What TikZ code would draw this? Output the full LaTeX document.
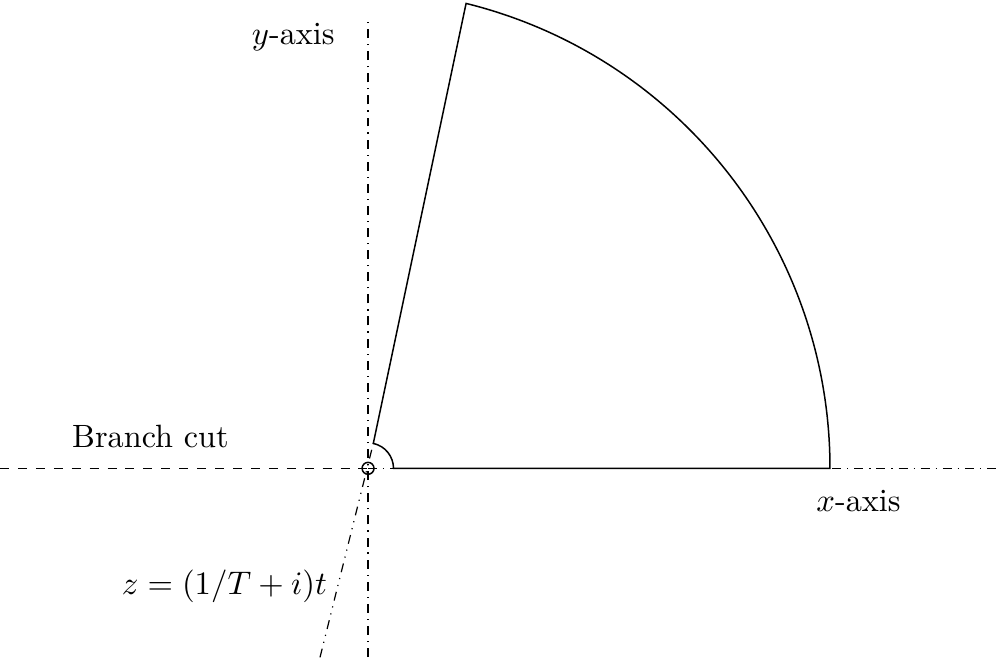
\documentclass[tikz,border=0pt]{standalone}
\usepackage{tikz}

\begin{document}
\begin{tikzpicture}
    \tikzset{
      axisline/.style={line width=0.4pt, dash dot},
      cutline/.style={line width=0.4pt, dashed},
      contour/.style={line width=0.5pt},
      lbl/.style={font=\fontsize{10.8}{13}\selectfont, inner sep=1pt}
    }
    \useasboundingbox (-4.33,-2.39) rectangle (7.40,5.51);

    % Achsen und Schnitt
    \draw[cutline] (-4.33,0) -- (0,0);
    \draw[axisline] (0,0) -- (7.40,0);
    \draw[axisline] (0,-2.22) -- (0,5.25);
    \draw[contour] (0,0) circle (0.07);

    % Strahl z = (1/T + i)t
    \draw[line width=0.4pt, dash dot dot] (-0.565,-2.224) -- (0.062,0.293);

    % Kontur: kleiner Bogen, Strecke, grosser Bogen, Strahl
    \draw[contour] (0.062,0.293) arc (78:0:0.3)
      -- (5.435,0)
      arc (0:76.1:5.635)
      -- cycle;

    % Beschriftungen
    \node[lbl] (yax) at (-0.88,5.07) {$y$-axis};
    \node[lbl] (xax) at (5.77,-0.38) {$x$-axis};
    \node[lbl] (cut) at (-2.56,0.37) {Branch cut};
    \node[lbl] (ray) at (-1.69,-1.39) {$z=(1/T+i)t$};
\end{tikzpicture}
\end{document}
